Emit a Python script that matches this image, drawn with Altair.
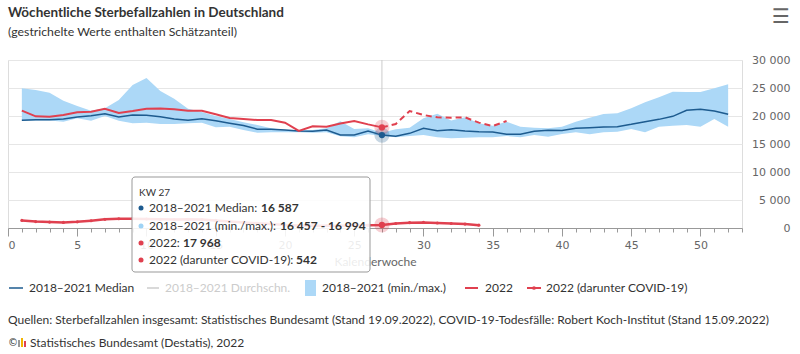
import altair as alt
import pandas as pd

weeks = list(range(1, 53))
median = [19230, 19340, 19340, 19460, 19820, 20060, 20420, 19820, 20180, 20120,
          19880, 19460, 19230, 19500, 19150, 18720, 18300, 17650, 17650, 17500,
          17320, 17260, 17500, 16610, 16610, 17320, 16587, 16400, 16900, 17800,
          17350, 17560, 17320, 17170, 17140, 16730, 16760, 17260, 17440, 17400,
          17800, 17910, 18030, 18090, 18510, 18990, 19400, 19940, 21010, 21190,
          20900, 20300]
band_min = [19100, 19200, 19200, 18990, 19580, 19170, 20000, 19170, 18690, 18810,
            18570, 18570, 18690, 18810, 17970, 18090, 17500, 17020, 17080, 17080,
            17080, 17000, 17080, 16370, 16190, 16730, 16457, 16190, 16430, 16610,
            16190, 16010, 16130, 16190, 16190, 16430, 16190, 16600, 16300, 16800,
            17080, 16730, 17080, 17200, 17680, 17080, 18090, 18270, 18390, 18090,
            19460, 18090]
band_max = [24940, 24640, 24170, 22740, 21790, 20950, 21370, 22860, 25540, 26790,
            24450, 23100, 21300, 20700, 20000, 19460, 18900, 18390, 17800, 17500,
            17400, 17500, 17800, 19050, 17700, 17800, 16994, 17620, 17900, 19600,
            20400, 19200, 19760, 18690, 18270, 18990, 18090, 17910, 17800, 18090,
            18990, 19700, 20360, 20480, 21370, 22440, 23330, 24340, 24280, 24280,
            24940, 25660]
deaths_2022 = [20950, 19940, 19880, 20180, 20660, 20770, 21300, 20540, 20890, 21300,
               21360, 21190, 20950, 20950, 20300, 19640, 19460, 19290, 19290, 18800,
               17350, 18150, 18100, 18650, 19100, 18500, 17968, 18570, 20890, 20180,
               19760, 19700, 19760, 18810, 18210, 19110]
covid_2022 = [1350, 1150, 1050, 1000, 1100, 1300, 1550, 1650, 1650, 1600,
              1550, 1500, 1550, 1500, 1350, 1150, 1000, 850, 700, 550,
              450, 400, 400, 400, 450, 500, 542, 800, 950, 1000,
              900, 800, 700, 500]
x_ticks = list(range(0, 54))
y_ticks = [0, 5000, 10000, 15000, 20000, 25000, 30000]
hover_week = 27

FONT = "Lato"
AXFONT = "DejaVu Sans"
BLUE = "#1d5b8f"
LIGHT = "#acd8f7"
RED = "#e0404f"
TXT = "#333333"

W, H = 734, 168

band_df = pd.DataFrame({"week": weeks, "median": median, "min": band_min, "max": band_max})
d22 = pd.DataFrame({"week": weeks[:len(deaths_2022)], "value": deaths_2022})
solid_df = d22[d22.week <= hover_week]
dash_df = d22[d22.week >= hover_week]
cov_df = pd.DataFrame({"week": weeks[:len(covid_2022)], "value": covid_2022})
hov = pd.DataFrame({
    "week": [hover_week] * 3,
    "value": [median[hover_week - 1], deaths_2022[hover_week - 1], covid_2022[hover_week - 1]],
    "col": [BLUE, RED, RED],
})

xs = alt.Scale(domain=[0, 53], nice=False, zero=False)
ys = alt.Scale(domain=[0, 30000], nice=False)

x_axis = alt.Axis(
    values=x_ticks, orient="bottom", labelOverlap=False,
    labelExpr="datum.value % 5 === 0 ? datum.label : ''",
    tickSize={"condition": {"test": "datum.value % 5 === 0", "value": 8}, "value": 4},
    tickColor="#999999", domainColor="#999999", grid=False,
    labelFont=AXFONT, labelFontSize=11, labelColor="#666666", labelPadding=3,
    title="Kalenderwoche", titleFont=FONT, titleFontSize=12, titleFontWeight="normal",
    titleColor="#666666", titlePadding=6,
)
y_axis = alt.Axis(
    values=y_ticks, orient="right", grid=True, gridColor="#e6e6e6", domain=False,
    ticks=False, labelAlign="right", labelPadding=48, labelBaseline="middle",
    labelOverlap=False,
    labelFont=AXFONT, labelFontSize=11, labelColor="#666666", title=None,
    labelExpr="replace(format(datum.value, ','), ',', ' ')",
)

X = alt.X("week:Q", scale=xs, axis=x_axis)


def Y(field):
    return alt.Y(field, type="quantitative", scale=ys, axis=y_axis)


band = alt.Chart(band_df).mark_area(color=LIGHT, opacity=1).encode(
    x=X, y=Y("min"), y2="max:Q")
cross = alt.Chart(pd.DataFrame({"week": [hover_week]})).mark_rule(color="#cccccc", strokeWidth=1).encode(
    x=X, y=alt.value(0), y2=alt.value(H))
med = alt.Chart(band_df).mark_line(color=BLUE, strokeWidth=1.5).encode(x=X, y=Y("median"))
red_solid = alt.Chart(solid_df).mark_line(color=RED, strokeWidth=2).encode(x=X, y=Y("value"))
red_dash = alt.Chart(dash_df).mark_line(color=RED, strokeWidth=2, strokeDash=[6, 4]).encode(
    x=X, y=Y("value"))
cov_line = alt.Chart(cov_df).mark_line(color=RED, strokeWidth=2.5).encode(x=X, y=Y("value"))
cov_pts = alt.Chart(cov_df).mark_circle(color=RED, size=10, opacity=1).encode(x=X, y=Y("value"))
halo = alt.Chart(hov).mark_circle(size=230, opacity=0.25).encode(
    x=X, y=Y("value"), color=alt.Color("col:N", scale=None))
dots = alt.Chart(hov).mark_circle(size=40, opacity=1).encode(
    x=X, y=Y("value"), color=alt.Color("col:N", scale=None))


def one():
    return pd.DataFrame({"k": [0]})


def txt(s, x, y, size, color=TXT, weight="normal", font=FONT, align="left"):
    return alt.Chart(pd.DataFrame({"t": [s]})).mark_text(
        align=align, baseline="middle", fontSize=size, font=font, color=color,
        fontWeight=weight).encode(x=alt.value(x), y=alt.value(y), text="t:N")


def hline(x1, x2, y, color, width=2, dash=None):
    kw = dict(color=color, strokeWidth=width)
    if dash:
        kw["strokeDash"] = dash
    return alt.Chart(one()).mark_rule(**kw).encode(x=alt.value(x1), x2=alt.value(x2), y=alt.value(y))


def rect(x1, x2, y1, y2, color, **kw):
    return alt.Chart(one()).mark_rect(color=color, **kw).encode(
        x=alt.value(x1), x2=alt.value(x2), y=alt.value(y1), y2=alt.value(y2))


def dot(x, y, color, size=25):
    return alt.Chart(one()).mark_circle(color=color, size=size, opacity=1).encode(
        x=alt.value(x), y=alt.value(y))


TF = 12
tip = [
    alt.Chart(one()).mark_rect(fill="white", fillOpacity=0.88, stroke="#999999",
                               strokeWidth=1, cornerRadius=3).encode(
        x=alt.value(124), x2=alt.value(362), y=alt.value(117), y2=alt.value(212)),
    txt("KW 27", 131, 133, 10),
    dot(133, 148, BLUE), txt("2018–2021 Median:", 141, 148, TF),
    txt("16 587", 253, 148, TF, weight="bold"),
    dot(133, 166, "#9fd3f5"), txt("2018–2021 (min./max.):", 141, 166, TF),
    txt("16 457 - 16 994", 272, 166, TF, weight="bold"),
    dot(133, 183, RED), txt("2022:", 141, 183, TF),
    txt("17 968", 175, 183, TF, weight="bold"),
    dot(133, 200, RED), txt("2022 (darunter COVID-19):", 141, 200, TF),
    txt("542", 288, 200, TF, weight="bold"),
]

LY = 228
LF = 12
legend = [
    hline(1, 15, LY, BLUE, 1.5), txt("2018–2021 Median", 21, LY, LF),
    hline(139, 151, LY, "#cccccc", 1.5), txt("2018–2021 Durchschn.", 157, LY, LF, color="#cccccc"),
    rect(297, 308, LY - 8, LY + 8, LIGHT), txt("2018–2021 (min./max.)", 314, LY, LF),
    hline(457, 470, LY, RED, 2), txt("2022", 477, LY, LF),
    hline(519, 533, LY, RED, 2), dot(526, LY, RED, 14), txt("2022 (darunter COVID-19)", 538, LY, LF),
]

texts = [
    txt("Wöchentliche Sterbefallzahlen in Deutschland", 0, -47, 13.5, weight="bold"),
    txt("(gestrichelte Werte enthalten Schätzanteil)", 0, -28, 12.3),
    txt("☰", 773, -43, 20, color="#666666", font="DejaVu Sans", align="center"),
    txt("Quellen: Sterbefallzahlen insgesamt: Statistisches Bundesamt (Stand 19.09.2022), "
        "COVID-19-Todesfälle: Robert Koch-Institut (Stand 15.09.2022)", 0, 260, 12),
    txt("©", 0, 283, 10, font="DejaVu Sans"),
    rect(10, 12, 280, 287, "#999999"), rect(13, 15, 278, 287, "#f2b300"), rect(16, 18, 281, 287, "#e0404f"),
    txt("Statistisches Bundesamt (Destatis), 2022", 22, 283, 12),
]

chart = alt.layer(
    band, cross, med, red_solid, red_dash, cov_line, cov_pts, halo, dots,
    *tip, *legend, *texts,
).properties(
    width=W, height=H,
    padding={"left": 8, "top": 60, "right": 58, "bottom": 126},
    autosize=alt.AutoSizeParams(type="none"),
).configure_view(stroke=None).configure(background="white")

chart.save("out.html", embed_options={"renderer": "svg", "actions": False})
